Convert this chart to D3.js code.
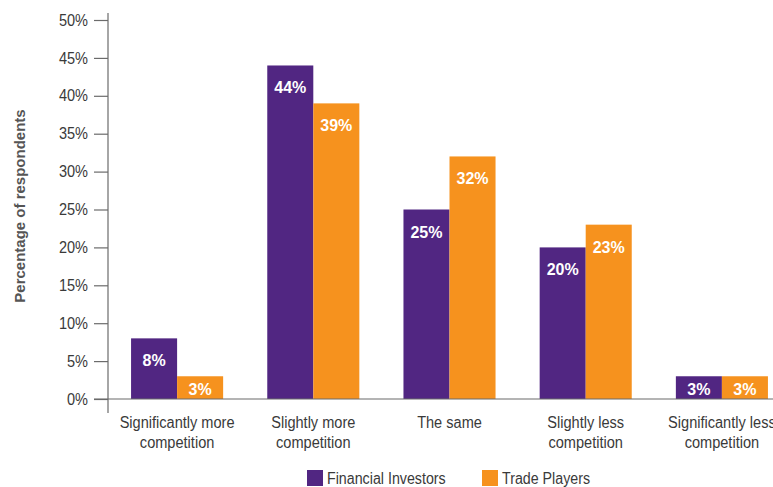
<!DOCTYPE html>
<html>
<head>
<meta charset="utf-8">
<script src="https://cdn.jsdelivr.net/npm/d3@7"></script>
<style>
  html, body { margin: 0; padding: 0; background: #ffffff; }
  svg { display: block; font-family: "Liberation Sans", Arial, Helvetica, sans-serif; }
</style>
</head>
<body>
<svg id="chart" width="773" height="487"></svg>
<script>
// Survey answers: expected change in competition
const categories = [
  ["Significantly more", "competition"],
  ["Slightly more", "competition"],
  ["The same"],
  ["Slightly less", "competition"],
  ["Significantly less", "competition"]
];
const seriesNames = ["Financial Investors", "Trade Players"];
const financialInvestors = [8, 44, 25, 20, 3];
const tradePlayers = [3, 39, 32, 23, 3];
const yTicks = [0, 5, 10, 15, 20, 25, 30, 35, 40, 45, 50];
const colors = ["#512682", "#f6921e"];

const svg = d3.select("#chart");
const axisColor = "#6b6b6b";
const textColor = "#3a3a3a";
const condense = 0.91; // narrow look for the regular-weight labels

// squeeze a text selection horizontally around its anchor
function narrow(sel) {
  sel.each(function () {
    const w = this.getComputedTextLength();
    if (w > 0) {
      this.setAttribute("textLength", (w * condense).toFixed(1));
      this.setAttribute("lengthAdjust", "spacingAndGlyphs");
    }
  });
}

const catKeys = categories.map(c => c.join(" "));
const x = d3.scaleBand()
  .domain(catKeys)
  .range([109, 790])
  .paddingInner(0.324)
  .paddingOuter(0.162);
const xSub = d3.scaleBand()
  .domain(seriesNames)
  .range([0, x.bandwidth()]);
const y = d3.scaleLinear().domain([0, 50]).range([399, 20]);

// Y axis with ticks
const yAxis = svg.append("g")
  .attr("transform", "translate(108,0)")
  .call(d3.axisLeft(y).tickValues(yTicks).tickFormat(d => d + "%").tickSize(14).tickPadding(6));
yAxis.select(".domain").remove();
yAxis.selectAll(".tick line").attr("stroke", axisColor).attr("stroke-width", 1.2);
yAxis.selectAll(".tick text")
  .attr("fill", textColor)
  .style("font-size", "16px")
  .style("font-family", "'Liberation Sans', Arial, sans-serif")
  .call(narrow);

// vertical axis line, extending past the baseline
svg.append("line")
  .attr("x1", 108).attr("x2", 108)
  .attr("y1", 13).attr("y2", 413)
  .attr("stroke", axisColor).attr("stroke-width", 1.2);

// Bars
const rows = categories.map((c, i) => ({
  key: catKeys[i],
  values: [financialInvestors[i], tradePlayers[i]]
}));

const groups = svg.append("g").selectAll("g")
  .data(rows)
  .join("g")
  .attr("transform", d => `translate(${x(d.key)},0)`);

groups.selectAll("rect")
  .data(d => d.values.map((v, j) => ({ name: seriesNames[j], v, j })))
  .join("rect")
  .attr("x", d => xSub(d.name))
  .attr("y", d => y(d.v))
  .attr("width", xSub.bandwidth())
  .attr("height", d => y(0) - y(d.v))
  .attr("fill", d => colors[d.j]);

groups.selectAll("text.val")
  .data(d => d.values.map((v, j) => ({ name: seriesNames[j], v, j })))
  .join("text")
  .attr("class", "val")
  .attr("x", d => xSub(d.name) + xSub.bandwidth() / 2)
  .attr("y", d => Math.min(y(d.v) + 28, y(0) - 4))
  .attr("text-anchor", "middle")
  .attr("fill", "#ffffff")
  .style("font-weight", "bold")
  .style("font-size", "16px")
  .text(d => d.v + "%");

// X axis baseline
svg.append("line")
  .attr("x1", 94).attr("x2", 773)
  .attr("y1", y(0)).attr("y2", y(0))
  .attr("stroke", axisColor).attr("stroke-width", 1.2);

// Category labels
const catLabels = svg.append("g").selectAll("text")
  .data(rows.map((r, i) => ({ key: r.key, lines: categories[i] })))
  .join("text")
  .attr("x", d => x(d.key) + x.bandwidth() / 2)
  .attr("y", 428)
  .attr("text-anchor", "middle")
  .attr("fill", textColor)
  .style("font-size", "16px");
catLabels.selectAll("tspan")
  .data(d => d.lines.map(l => ({ l, cx: x(d.key) + x.bandwidth() / 2 })))
  .join("tspan")
  .attr("x", d => d.cx)
  .attr("dy", (d, i) => i === 0 ? 0 : 20)
  .text(d => d.l)
  .call(narrow);

// Y axis title
svg.append("text")
  .attr("transform", "translate(25,206) rotate(-90)")
  .attr("text-anchor", "middle")
  .attr("fill", "#555555")
  .style("font-weight", "bold")
  .style("font-size", "15px")
  .text("Percentage of respondents");

// Legend
const legendX = [307, 482];
const legend = svg.append("g").selectAll("g")
  .data(seriesNames)
  .join("g")
  .attr("transform", (d, i) => `translate(${legendX[i]},470)`);
legend.append("rect")
  .attr("width", 16).attr("height", 16)
  .attr("fill", (d, i) => colors[i]);
legend.append("text")
  .attr("x", 20).attr("y", 14)
  .attr("fill", textColor)
  .style("font-size", "16px")
  .text(d => d)
  .call(sel => { sel.each(function () {
    const w = this.getComputedTextLength();
    this.setAttribute("textLength", (w * 0.89).toFixed(1));
    this.setAttribute("lengthAdjust", "spacingAndGlyphs");
  }); });
</script>
</body>
</html>
